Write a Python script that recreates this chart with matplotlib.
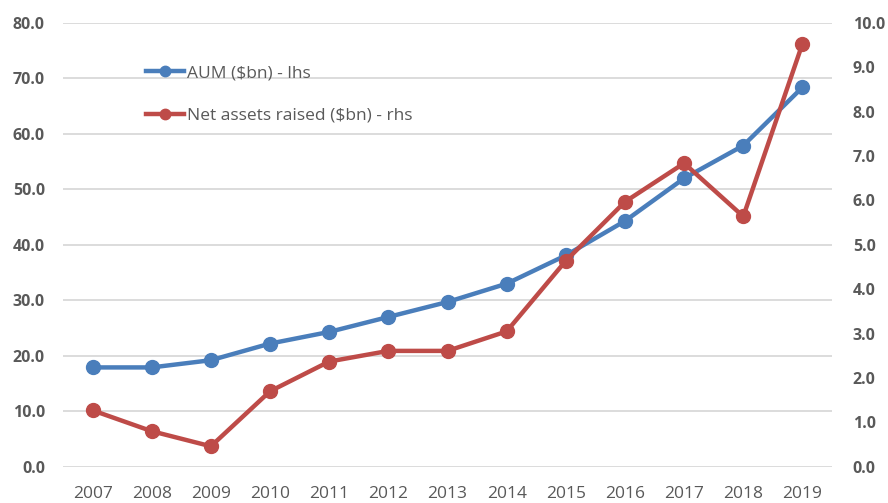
import numpy as np
import matplotlib
matplotlib.use("Agg")
from matplotlib import pyplot as plt

years = ["2007", "2008", "2009", "2010", "2011", "2012", "2013",
         "2014", "2015", "2016", "2017", "2018", "2019"]
aum = [17.9, 17.9, 19.2, 22.2, 24.3, 27.0, 29.7, 33.0, 38.1, 44.3, 52.0, 57.9, 68.4]
net_raised = [1.27, 0.80, 0.46, 1.70, 2.37, 2.61, 2.61, 3.05, 4.64, 5.97, 6.84, 5.64, 9.53]

left_ticks = np.arange(0, 81, 10)
right_ticks = np.arange(0, 11, 1)

blue = "#4a7ebb"
red = "#be4b48"
txt = "#595959"

plt.rcParams['font.family'] = ['Open Sans', 'DejaVu Sans']

fig = plt.figure(figsize=(8.88, 5.03), dpi=100)
ax = fig.add_axes([63/888, 1-466.7/503, (832-63)/888, (466.7-23)/503])
ax2 = ax.twinx()

x = np.arange(len(years))
l1, = ax.plot(x, aum, color=blue, lw=3.2, marker='o', ms=10, label='AUM ($bn) - lhs', zorder=3)
l2, = ax2.plot(x, net_raised, color=red, lw=3.2, marker='o', ms=10, label='Net assets raised ($bn) - rhs', zorder=3)

ax.set_xlim(-0.5, len(years) - 0.5)
ax.set_ylim(0, 80)
ax2.set_ylim(0, 10)
ax.set_yticks(left_ticks)
ax.set_yticklabels(["%.1f" % v for v in left_ticks])
ax2.set_yticks(right_ticks)
ax2.set_yticklabels(["%.1f" % v for v in right_ticks])
ax.set_xticks(x)
ax.set_xticklabels(years)

ax.grid(axis='y', color='#d9d9d9', lw=1.3)
ax.set_axisbelow(True)
for a in (ax, ax2):
    for s in a.spines.values():
        s.set_visible(False)
    a.tick_params(length=0)

ax.tick_params(axis='y', pad=13, labelsize=11.5, labelcolor=txt)
ax2.tick_params(axis='y', pad=15, labelsize=11.5, labelcolor=txt)
ax.tick_params(axis='x', pad=14, labelsize=12.5, labelcolor=txt)
for lab in ax.get_yticklabels() + ax2.get_yticklabels():
    lab.set_fontweight('bold')

leg = ax.legend(handles=[l1, l2], loc='upper left', bbox_to_anchor=(0.088, 0.94),
                frameon=False, fontsize=12.5, handlelength=2.2, handletextpad=0.15,
                labelspacing=1.5, labelcolor=txt, markerscale=0.75)

fig.savefig("out.png", dpi=100)
